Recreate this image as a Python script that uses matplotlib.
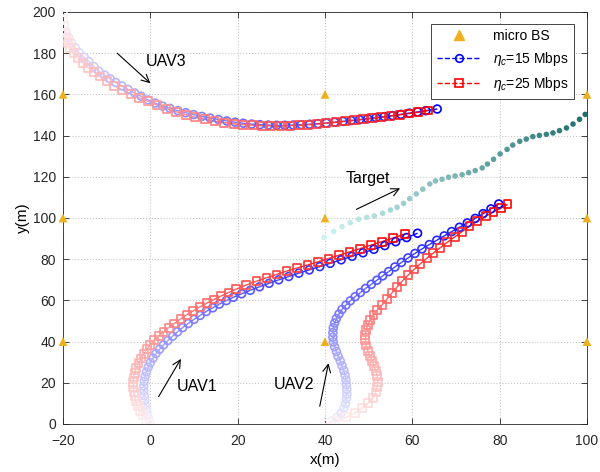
import numpy as np
import matplotlib
matplotlib.use('Agg')
import matplotlib.pyplot as plt
from matplotlib.collections import LineCollection
from matplotlib.lines import Line2D

plt.rcParams['font.family'] = ['Liberation Sans', 'DejaVu Sans']
plt.rcParams['mathtext.fontset'] = 'custom'
plt.rcParams['mathtext.rm'] = 'Liberation Sans'
plt.rcParams['mathtext.it'] = 'Liberation Sans:italic'

# ---------------------------------------------------------------------------
# Data
# ---------------------------------------------------------------------------
bs_x = [-20, -20, -20, 40, 40, 40, 100, 100, 100]
bs_y = [40, 100, 160, 40, 100, 160, 40, 100, 160]

target_x = [39.8, 42.0, 43.9, 45.8, 47.7, 49.6, 51.3, 53.2, 55.0, 56.5, 58.0, 59.4, 60.9,
            62.4, 64.0, 65.3, 66.8, 68.3, 69.8, 71.4, 72.9, 74.4, 76.0, 77.2, 78.6, 80.1,
            81.7, 83.0, 84.6, 86.1, 87.6, 89.1, 90.7, 92.2, 93.7, 95.3, 96.8, 98.3, 99.6]
target_y = [90.6, 93.4, 95.8, 97.7, 99.4, 100.3, 101.0, 102.3, 103.9, 105.2, 107.1, 109.4, 111.7,
            114.0, 116.5, 118.0, 118.8, 119.8, 120.4, 121.0, 122.0, 123.0, 124.3, 126.2, 128.5, 131.1,
            133.3, 135.4, 137.2, 138.3, 139.5, 140.1, 140.6, 141.3, 142.4, 143.7, 145.6, 147.9, 150.3]

# UAV1
uav1_15_x = [0.0, -0.3, -0.6, -0.9, -1.1, -1.3, -1.4, -1.5, -1.5, -1.4, -1.2, -0.9, -0.5, 0.0, 0.6,
             1.3, 2.1, 3.0, 4.0, 5.1, 6.2, 7.4, 8.7, 10.0, 11.4, 12.8, 14.3, 15.8, 17.4, 19.0,
             20.9, 22.9, 25.0, 27.2, 29.4, 31.7, 34.0, 36.4, 38.8, 41.2, 43.7, 46.2, 48.7, 51.2,
             53.7, 56.2, 58.7, 61.2]
uav1_15_y = [0.0, 2.3, 4.6, 6.9, 9.2, 11.5, 13.8, 16.1, 18.4, 20.7, 23.0, 25.3, 27.6, 29.8, 32.0,
             34.2, 36.3, 38.4, 40.5, 42.6, 44.7, 46.8, 48.8, 50.8, 52.7, 54.6, 56.4, 58.2, 59.9, 61.5,
             63.2, 64.9, 66.6, 68.3, 70.0, 71.6, 73.2, 74.8, 76.4, 78.0, 79.7, 81.4, 83.1, 84.8,
             86.6, 88.5, 90.5, 92.6]
uav1_25_x = [0.0, -0.9, -1.7, -2.4, -2.9, -3.3, -3.6, -3.8, -3.9, -3.9, -3.8, -3.6, -3.2, -2.7, -2.1,
             -1.5, -0.8, 0.0, 0.9, 1.9, 3.0, 4.2, 5.5, 6.9, 8.3, 9.8, 11.3, 12.9, 14.5, 16.2,
             17.9, 19.7, 22.0, 24.3, 26.6, 28.9, 31.2, 33.6, 36.0, 38.4, 40.8, 43.2, 45.6, 48.0,
             50.5, 53.0, 55.6, 58.3]
uav1_25_y = [0.0, 2.1, 4.3, 6.5, 8.8, 11.1, 13.4, 15.7, 18.0, 20.3, 22.6, 24.9, 27.2, 29.5, 31.8,
             34.0, 36.2, 38.4, 40.6, 42.7, 44.8, 46.8, 48.8, 51.0, 53.0, 54.9, 56.8, 58.6, 60.4, 62.1,
             63.8, 65.5, 67.5, 69.3, 71.0, 72.6, 74.2, 75.7, 77.2, 78.7, 80.3, 81.9, 83.5, 85.1,
             86.8, 88.5, 90.3, 92.2]

# UAV2
uav2_15_x = [40.0, 41.5, 42.8, 43.7, 44.3, 44.7, 44.9, 45.0, 45.0, 44.9, 44.8, 44.6, 44.3, 43.9, 43.5,
             43.0, 42.6, 42.2, 41.9, 41.8, 41.8, 41.9, 42.2, 42.6, 43.2, 43.9, 44.8, 45.8, 46.9, 48.1,
             49.3, 50.6, 51.9, 53.2, 54.6, 56.0, 57.5, 59.0, 60.6, 62.2, 63.9, 65.6, 67.3, 69.0,
             70.8, 72.6, 74.4, 76.2, 78.0, 79.8]
uav2_15_y = [0.0, 1.5, 3.3, 5.4, 7.6, 9.9, 12.2, 14.5, 16.8, 19.1, 21.4, 23.7, 26.0, 28.3, 30.6,
             32.9, 35.2, 37.5, 39.8, 42.1, 44.4, 46.7, 49.0, 51.2, 53.4, 55.6, 57.7, 59.8, 61.8, 63.8,
             65.8, 67.8, 69.8, 71.9, 74.0, 76.2, 78.4, 80.6, 82.8, 85.0, 87.1, 89.2, 91.3, 93.4,
             95.5, 97.6, 99.8, 102.1, 104.4, 106.8]
uav2_25_x = [40.0, 42.4, 44.8, 46.8, 48.5, 49.9, 50.9, 51.6, 52.0, 52.1, 52.0, 51.7, 51.3, 50.8, 50.3,
             49.8, 49.4, 49.2, 49.2, 49.4, 49.8, 50.4, 51.1, 52.0, 53.1, 54.2, 55.3, 56.5, 57.7, 59.0,
             60.4, 61.8, 63.3, 64.8, 66.4, 68.0, 69.7, 71.4, 73.1, 74.9, 76.8, 78.6, 80.4, 81.8]
uav2_25_y = [0.0, 1.6, 3.2, 5.3, 7.6, 10.1, 12.7, 15.3, 17.9, 20.5, 23.1, 25.6, 28.1, 30.6, 33.1,
             35.6, 38.1, 40.6, 43.1, 45.6, 48.1, 50.6, 53.0, 55.4, 57.8, 60.7, 63.6, 66.5, 69.4, 72.2,
             75.0, 77.7, 80.4, 83.0, 85.6, 88.2, 90.8, 93.4, 96.0, 98.5, 100.9, 103.0, 104.9, 106.6]

# UAV3
uav3_15_x = [-20.0, -19.7, -19.3, -18.7, -18.0, -17.2, -16.3, -15.2, -14.1, -12.9, -11.8, -10.5,
             -9.2, -7.9, -6.5, -5.1, -3.6, -2.1, -0.5, 1.1, 2.8, 4.5, 6.3, 8.1, 9.9, 11.8, 13.7,
             15.6, 17.5, 19.4, 21.3, 23.2, 25.1, 27.0, 28.9, 30.8, 32.7, 34.6, 36.5, 38.4, 40.3,
             42.2, 44.1, 46.0, 47.9, 49.8, 51.7, 53.6, 55.5, 57.4, 59.3, 61.2, 63.1, 65.7]
uav3_15_y = [196.0, 193.0, 190.2, 187.5, 185.0, 182.6, 180.3, 178.1, 176.0, 173.5, 171.2, 169.4,
             167.6, 165.8, 164.1, 162.4, 160.7, 159.1, 157.3, 155.8, 154.3, 153.2, 152.1, 151.1,
             150.2, 149.3, 148.5, 147.8, 147.1, 146.5, 146.0, 145.6, 145.3, 145.1, 145.0, 145.0,
             145.1, 145.3, 145.5, 145.8, 146.1, 146.5, 146.9, 147.3, 147.7, 148.2, 148.7, 149.2,
             149.7, 150.3, 150.9, 151.5, 152.1, 152.9]
uav3_25_x = [-20.0, -19.9, -19.8, -19.6, -19.3, -18.9, -18.3, -17.5, -16.5, -15.4, -14.2, -12.9,
             -11.5, -10.0, -8.3, -6.4, -4.5, -2.5, -0.5, 1.6, 3.7, 5.9, 8.1, 10.3, 12.5, 14.7,
             16.9, 19.1, 21.3, 23.5, 25.6, 27.7, 29.8, 31.9, 34.0, 36.1, 38.2, 40.3, 42.4, 44.5,
             46.6, 48.7, 50.8, 52.9, 55.0, 57.1, 59.2, 61.3, 63.7]
uav3_25_y = [200.0, 196.5, 193.0, 190.0, 187.3, 184.9, 182.4, 179.9, 177.5, 175.2, 173.0, 170.8,
             168.7, 166.3, 164.2, 162.2, 160.3, 158.4, 156.6, 154.8, 153.1, 151.6, 150.2, 148.9,
             147.9, 147.0, 146.3, 145.7, 145.3, 145.0, 144.8, 144.7, 144.7, 144.8, 145.0, 145.3,
             145.6, 146.0, 146.4, 146.9, 147.4, 147.9, 148.4, 148.9, 149.5, 150.1, 150.7, 151.3,
             152.2]

BS_COLOR = '#EDB120'
BLUE = (0.0, 0.0, 1.0)
RED = (1.0, 0.0, 0.0)


def faded(rgb, n, start=0.04):
    """Colours going from nearly white to rgb along a track."""
    t = np.linspace(start, 1.0, n)[:, None]
    return (1 - t) + t * np.array(rgb)[None, :]


def track(ax, x, y, rgb, marker):
    x = np.asarray(x)
    y = np.asarray(y)
    cols = faded(rgb, len(x))
    pts = np.column_stack([x, y])
    segs = np.stack([pts[:-1], pts[1:]], axis=1)
    ax.add_collection(LineCollection(segs, colors=cols[1:], linewidths=1.0, zorder=2))
    ax.scatter(x, y, s=32, marker=marker, facecolors='none', edgecolors=cols,
               linewidths=1.2, zorder=3)


fig = plt.figure(figsize=(6.0, 4.72), dpi=100)
ax = fig.add_axes([0.105, 0.1017, 0.8733, 0.8729])

# target trajectory
c0 = np.array([0.80, 0.95, 0.95])
c1 = np.array([0.12, 0.43, 0.43])
t = np.linspace(0, 1, len(target_x))[:, None]
ax.scatter(target_x, target_y, s=16, c=(1 - t) * c0 + t * c1, edgecolors='none', zorder=2)

for xs, ys, rgb, mk in [(uav1_15_x, uav1_15_y, BLUE, 'o'), (uav2_15_x, uav2_15_y, BLUE, 'o'),
                        (uav3_15_x, uav3_15_y, BLUE, 'o'), (uav1_25_x, uav1_25_y, RED, 's'),
                        (uav2_25_x, uav2_25_y, RED, 's'), (uav3_25_x, uav3_25_y, RED, 's')]:
    track(ax, xs, ys, rgb, mk)

ax.scatter(bs_x, bs_y, s=40, marker='^', color=BS_COLOR, edgecolors='none', zorder=4, clip_on=False)

# annotations
arrow = dict(arrowstyle='->', lw=0.8, color='k', shrinkA=0, shrinkB=0, mutation_scale=14)
ax.annotate('', xy=(0.0, 165.4), xytext=(-7.6, 180.0), arrowprops=arrow)
ax.text(-1.1, 176.0, 'UAV3', fontsize=11.5, va='center')
ax.annotate('', xy=(57.2, 114.4), xytext=(47.2, 104.2), arrowprops=arrow)
ax.text(44.7, 119.0, 'Target', fontsize=11.5, va='center')
ax.annotate('', xy=(7.0, 31.6), xytext=(1.9, 13.3), arrowprops=arrow)
ax.text(6.0, 18.0, 'UAV1', fontsize=11.5, va='center')
ax.annotate('', xy=(40.8, 29.5), xytext=(38.8, 8.6), arrowprops=arrow)
ax.text(28.2, 19.0, 'UAV2', fontsize=11.5, va='center')

ax.set_xlim(-20, 100)
ax.set_ylim(0, 200)
ax.set_xticks(np.arange(-20, 101, 20))
ax.set_yticks(np.arange(0, 201, 20))
ax.tick_params(direction='in', top=True, right=True, length=4, width=0.6,
               labelsize=10, colors='#262626')
ax.tick_params(axis='x', pad=7)
ax.tick_params(axis='y', pad=5)
for sp in ax.spines.values():
    sp.set_color('#262626')
    sp.set_linewidth(0.6)
ax.grid(True, linestyle=':', color='#c8c8c8', linewidth=0.8)
ax.set_axisbelow(True)
ax.set_xlabel('x(m)', fontsize=11, labelpad=4)
ax.set_ylabel('y(m)', fontsize=11, labelpad=2)

handles = [Line2D([], [], ls='none', marker='^', color=BS_COLOR, ms=7),
           Line2D([], [], ls='--', color='b', lw=1.0, marker='o', mfc='none', ms=5.5, mew=1.2),
           Line2D([], [], ls='--', color='r', lw=1.0, marker='s', mfc='none', ms=5.5, mew=1.2)]
labels = ['micro BS', r'$\eta_c$=15 Mbps', r'$\eta_c$=25 Mbps']
leg = ax.legend(handles, labels, loc='upper right', bbox_to_anchor=(0.975, 0.972),
                borderaxespad=0, fontsize=10, handlelength=3.2, fancybox=False,
                framealpha=1, edgecolor='#262626', labelspacing=0.5)
leg.get_frame().set_linewidth(0.6)

fig.savefig('out.png', dpi=100)
